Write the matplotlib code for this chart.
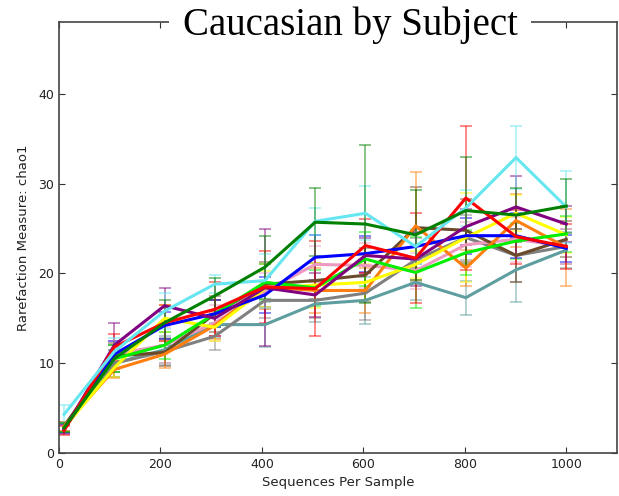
import numpy as np
import matplotlib.pyplot as plt

depths = [10, 109, 208, 307, 406, 505, 604, 703, 802, 901, 1000]

# subject -> (colour, means, errors)
teal = [2.8, 10.0, 11.5, 14.3, 14.3, 16.6, 17.0, 19.0, 17.3, 20.4, 22.6]
teal_err = [0.5, 1.5, 1.5, 1.5, 2.5, 2.0, 2.6, 2.0, 1.9, 3.6, 2.0]
grey = [2.8, 10.0, 11.3, 13.0, 17.0, 17.0, 17.8, 21.5, 24.0, 22.0, 23.0]
grey_err = [0.5, 1.5, 1.5, 1.5, 2.0, 2.0, 3.0, 2.5, 2.5, 3.0, 2.0]
pink = [2.8, 11.0, 12.0, 14.5, 18.0, 21.0, 20.9, 20.3, 23.2, 23.8, 23.0]
pink_err = [0.5, 1.5, 2.0, 2.0, 2.0, 2.0, 2.5, 2.0, 2.5, 2.5, 2.0]
brown = [3.0, 10.8, 11.2, 15.5, 18.8, 19.2, 19.8, 25.1, 24.8, 22.0, 23.8]
brown_err = [0.5, 1.5, 1.5, 2.0, 2.5, 2.0, 3.0, 4.5, 3.5, 3.0, 2.0]
orange = [3.0, 9.3, 11.0, 14.2, 18.5, 18.1, 18.1, 25.3, 20.6, 25.9, 22.9]
orange_err = [0.5, 1.0, 1.5, 1.5, 2.5, 2.5, 2.5, 6.0, 2.0, 3.0, 4.3]
yellow = [2.8, 9.5, 15.0, 14.0, 18.3, 18.7, 19.0, 21.0, 24.0, 26.7, 24.3]
yellow_err = [0.5, 1.0, 1.5, 1.5, 2.0, 2.5, 2.0, 1.5, 5.0, 2.0, 2.0]
lime = [2.8, 10.5, 12.0, 15.5, 19.0, 18.4, 21.6, 20.1, 22.3, 23.6, 24.4]
lime_err = [0.5, 1.5, 1.5, 1.5, 2.0, 2.0, 3.0, 4.0, 2.5, 2.0, 2.0]
blue = [2.7, 11.0, 14.2, 15.5, 17.6, 21.8, 22.2, 23.0, 24.2, 24.2, 22.8]
blue_err = [0.5, 1.5, 1.5, 1.5, 2.0, 2.5, 2.0, 1.5, 2.0, 2.5, 1.5]
purple = [2.6, 12.0, 16.4, 15.0, 18.4, 17.6, 22.0, 21.6, 25.2, 27.4, 25.5]
purple_err = [0.5, 2.5, 2.0, 2.0, 6.5, 2.5, 2.0, 3.0, 2.0, 3.5, 2.0]
red = [2.5, 11.8, 14.5, 16.0, 18.5, 18.3, 23.1, 21.7, 28.4, 24.1, 23.0]
red_err = [0.5, 1.5, 2.0, 3.0, 4.0, 5.3, 3.0, 5.0, 8.0, 3.0, 2.5]
cyan = [4.3, 11.3, 15.8, 18.8, 19.2, 25.8, 26.7, 23.0, 27.3, 32.9, 27.4]
cyan_err = [1.0, 1.5, 2.0, 1.0, 3.0, 1.5, 3.0, 2.0, 2.0, 3.5, 4.0]
dkgreen = [2.8, 10.5, 14.5, 17.5, 20.7, 25.7, 25.5, 24.3, 27.0, 26.5, 27.5]
dkgreen_err = [0.5, 1.5, 2.5, 2.0, 3.5, 3.8, 8.8, 5.0, 6.0, 3.0, 3.0]

series = [
    ("#5f9ea0", teal, teal_err),
    ("#808080", grey, grey_err),
    ("#ee99c0", pink, pink_err),
    ("#6b4a2a", brown, brown_err),
    ("#ff7f0e", orange, orange_err),
    ("#ffff00", yellow, yellow_err),
    ("#00ee00", lime, lime_err),
    ("#0000ff", blue, blue_err),
    ("#800080", purple, purple_err),
    ("#ff0000", red, red_err),
    ("#66e6f0", cyan, cyan_err),
    ("#008000", dkgreen, dkgreen_err),
]

fig = plt.figure(figsize=(6.19, 4.96), dpi=100)
ax = fig.add_axes([59/619, 1-453/496, 558/619, 431/496])

for col, m, e in series:
    ax.errorbar(depths, m, yerr=e, color=col, ecolor=col, elinewidth=1.2,
                capsize=4, capthick=1.2, alpha=0.55, lw=0)
for col, m, e in series:
    ax.plot(depths, m, color=col, lw=2.2)

ax.set_xlim(0, 1100)
ax.set_ylim(0, 48)
ax.set_xticks([0, 200, 400, 600, 800, 1000])
ax.set_yticks([0, 10, 20, 30, 40])
ax.tick_params(direction='in', top=True, right=True, length=4, labelsize=9,
               colors='#333333', labelcolor='#222222')
for s in ax.spines.values():
    s.set_color('#444444')
    s.set_linewidth(1.2)
ax.set_xlabel("Sequences Per Sample", fontsize=9.5, color='#222222', labelpad=4)
ax.set_ylabel("Rarefaction Measure: chao1", fontsize=9.5, color='#222222', labelpad=6)

fig.text(350/619, 1-25/496, "Caucasian by Subject", family="Liberation Serif",
         fontsize=28, ha='center', va='center',
         bbox=dict(facecolor='white', edgecolor='none', pad=10))

fig.savefig("out.png", dpi=100)
